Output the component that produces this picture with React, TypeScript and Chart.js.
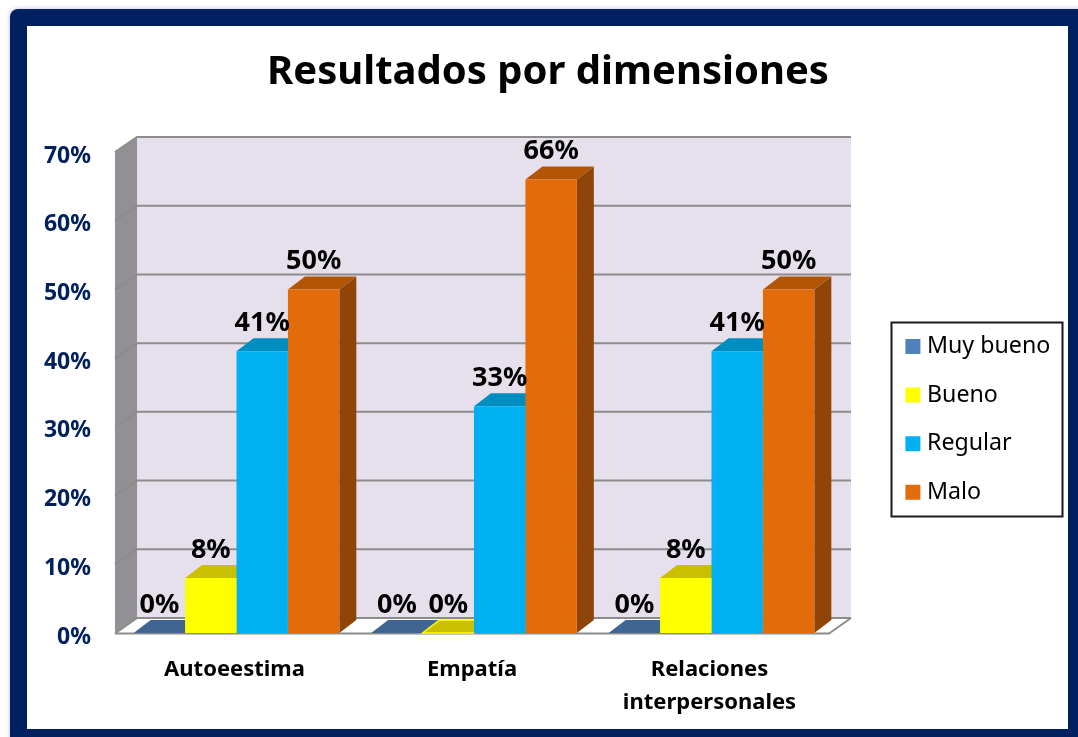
import React, { useEffect, useRef } from "react";
import { Chart, registerables } from "chart.js";

Chart.register(...registerables);

const TITLE = "Resultados por dimensiones";
const categories = ["Autoeestima", "Empatía", ["Relaciones", "interpersonales"]];
const muyBueno = [0, 0, 0];
const bueno = [8, 0, 8];
const regular = [41, 33, 41];
const malo = [50, 66, 50];
const seriesNames = ["Muy bueno", "Bueno", "Regular", "Malo"];
const frontColors = ["#4f81bd", "#ffff00", "#00b0f0", "#e36c0a"];
const topColors = ["#3f6593", "#c8c000", "#008dc0", "#b35505"];
const sideColors = ["#345478", "#a6a000", "#00759f", "#8f4507"];

const FONT = "'Noto Sans'";
const WALL_DX = 22;
const WALL_DY = 15;
const BAR_DX = 17;
const BAR_DY = 13;
const WALL_SHIFT_L = 2.75;
const WALL_SHIFT_R = 1.25;

function poly(ctx: CanvasRenderingContext2D, pts: number[][], fill?: string) {
  ctx.beginPath();
  pts.forEach(([x, y], i) => (i ? ctx.lineTo(x, y) : ctx.moveTo(x, y)));
  ctx.closePath();
  if (fill) {
    ctx.fillStyle = fill;
    ctx.fill();
  }
}

const scene3d = {
  id: "scene3d",
  afterLayout(chart: any) {
    const t = chart.titleBlock;
    t.left = 18;
    t.right = 1078;
    t.top = 53;
    const l = chart.legend;
    l.left = 885;
    l.top = 309.5;
    l.right = 1078;
    l.bottom = 737;
  },
  beforeDatasetsDraw(chart: any) {
    const { ctx, chartArea: a, scales } = chart;
    const L = a.left - WALL_SHIFT_L;
    const R = a.right - WALL_SHIFT_R;
    const B = a.bottom;
    const T = a.top;
    ctx.save();
    poly(ctx, [[L + WALL_DX, T - WALL_DY], [R + WALL_DX, T - WALL_DY], [R + WALL_DX, B - WALL_DY], [L + WALL_DX, B - WALL_DY]], "#e6e0ec");
    poly(ctx, [[L, T], [L + WALL_DX, T - WALL_DY], [L + WALL_DX, B - WALL_DY], [L, B]], "#928f95");
    poly(ctx, [[L, B], [L + WALL_DX, B - WALL_DY], [R + WALL_DX, B - WALL_DY], [R, B]], "#ffffff");
    ctx.strokeStyle = "#8c8c8c";
    ctx.lineWidth = 2;
    scales.y.ticks.forEach((tick: any) => {
      const y = scales.y.getPixelForValue(tick.value);
      ctx.beginPath();
      ctx.moveTo(L, y + (tick.value === 0 ? 0.5 : 0));
      ctx.lineTo(L + WALL_DX, y - WALL_DY);
      ctx.lineTo(R + WALL_DX, y - WALL_DY);
      ctx.stroke();
    });
    ctx.beginPath();
    ctx.moveTo(L, B + 0.5);
    ctx.lineTo(R, B + 0.5);
    ctx.lineTo(R + WALL_DX, B - WALL_DY);
    ctx.stroke();

    // Sides and tops of every bar go behind all the front faces.
    chart.data.datasets.forEach((_: any, i: number) => {
      chart.getDatasetMeta(i).data.forEach((bar: any) => {
        const { x, y, base, width } = bar.getProps(["x", "y", "base", "width"], true);
        const l = x - width / 2;
        const r = x + width / 2;
        poly(ctx, [[r, y], [r + BAR_DX, y - BAR_DY], [r + BAR_DX, base - BAR_DY], [r, base]], sideColors[i]);
        poly(ctx, [[l, y], [r, y], [r + BAR_DX, y - BAR_DY], [l + BAR_DX, y - BAR_DY]], topColors[i]);
        if (Math.abs(base - y) < 0.5 && i === 1) {
          ctx.strokeStyle = frontColors[i];
          ctx.lineWidth = 1.5;
          ctx.stroke();
        }
      });
    });
    ctx.restore();
  },
  afterDatasetsDraw(chart: any) {
    const { ctx } = chart;
    ctx.save();
    ctx.font = `bold 27px ${FONT}`;
    ctx.fillStyle = "#000000";
    ctx.textAlign = "center";
    ctx.textBaseline = "middle";
    chart.data.datasets.forEach((ds: any, i: number) => {
      chart.getDatasetMeta(i).data.forEach((bar: any, j: number) => {
        const { x, y } = bar.getProps(["x", "y"], true);
        ctx.fillText(`${ds.data[j]}%`, x, y - 28);
      });
    });
    ctx.restore();
  },
  afterDraw(chart: any) {
    const { ctx, legend } = chart;
    ctx.save();
    ctx.strokeStyle = "#1a1a1a";
    ctx.lineWidth = 2;
    ctx.strokeRect(legend.left + 6.5, legend.top + 13, 171, 194);
    ctx.restore();
  },
};

export default function App() {
  const ref = useRef<HTMLCanvasElement>(null);
  useEffect(() => {
    const values = [muyBueno, bueno, regular, malo];
    const chart = new Chart(ref.current!, {
      type: "bar",
      data: {
        labels: categories as any,
        datasets: seriesNames.map((label, i) => ({
          label,
          data: values[i],
          backgroundColor: frontColors[i],
          borderWidth: 0,
          categoryPercentage: 0.866,
          barPercentage: 1,
        })),
      },
      options: {
        responsive: false,
        animation: false,
        devicePixelRatio: 1,
        events: [],
        layout: { padding: { left: 18, top: 112, right: 247.75, bottom: 0 } },
        scales: {
          x: {
            grid: { display: false },
            border: { display: false },
            afterFit: (s: any) => { s.height = 104; },
            ticks: {
              color: "#000000",
              font: { family: FONT, size: 22, weight: "bold", lineHeight: 1.5 },
              padding: 12,
              labelOffset: -2,
              autoSkip: false,
              maxRotation: 0,
            },
          },
          y: {
            min: 0,
            max: 70,
            grid: { display: false },
            border: { display: false },
            afterFit: (s: any) => { s.width = 99.75; },
            ticks: {
              stepSize: 10,
              color: "#002060",
              font: { family: FONT, size: 23, weight: "bold" },
              padding: 18.75,
              labelOffset: 4,
              callback: (v: any) => `${v}%`,
            },
          },
        },
        plugins: {
          title: {
            display: true,
            text: TITLE,
            color: "#000000",
            font: { family: FONT, size: 40, weight: "bold", lineHeight: 1 },
            padding: 0,
          },
          legend: {
            position: "chartArea",
            align: "start",
            labels: {
              boxWidth: 5,
              boxHeight: 5,
              padding: 25.4,
              color: "#111111",
              font: { family: FONT, size: 23.2 },
              generateLabels: (c: any) =>
                c.data.datasets.map((d: any, i: number) => ({
                  text: d.label,
                  fillStyle: frontColors[i],
                  strokeStyle: frontColors[i],
                  lineWidth: 10,
                  datasetIndex: i,
                  hidden: false,
                })),
            },
          },
          tooltip: { enabled: false },
        },
      } as any,
      plugins: [scene3d],
    });
    return () => chart.destroy();
  }, []);

  return (
    <div style={{ position: "fixed", left: 0, top: 0, width: 1078, height: 737, overflow: "hidden", background: "#ffffff" }}>
      <div
        style={{
          position: "absolute",
          left: 10,
          top: 9,
          width: 1100,
          height: 760,
          boxSizing: "border-box",
          borderRadius: 8,
          background: "#002060",
          boxShadow: "0 0 5px #cbb8e0",
        }}
      />
      <div style={{ position: "absolute", left: 27, top: 26, width: 1041, height: 703, background: "#ffffff" }} />
      <canvas ref={ref} width={1078} height={737} style={{ position: "absolute", left: 0, top: 0, display: "block" }} />
    </div>
  );
}
